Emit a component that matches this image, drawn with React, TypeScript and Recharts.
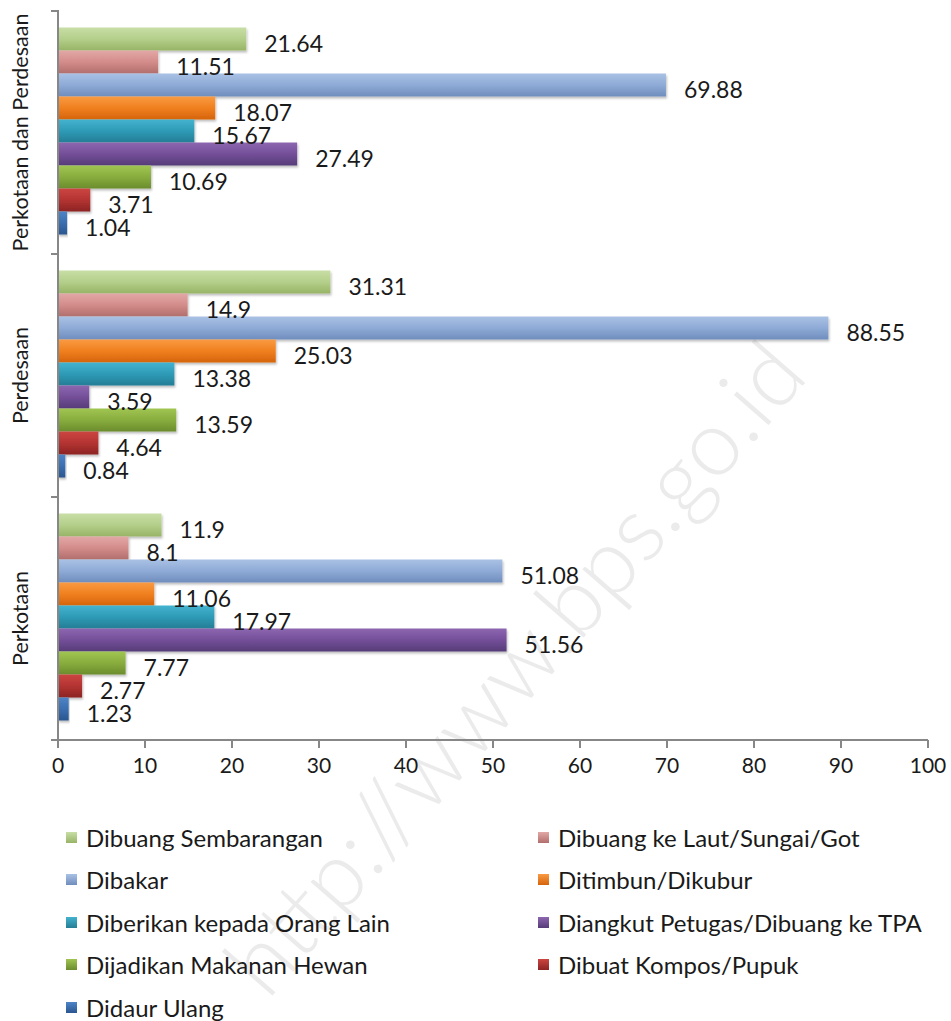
import React from "react";
import { BarChart, Bar, XAxis, YAxis, LabelList } from "recharts";

// Regions, top to bottom
const regions = ["Perkotaan dan Perdesaan", "Perdesaan", "Perkotaan"];

// Percentage of households by way of handling garbage
const dibuangSembarangan = [21.64, 31.31, 11.9];
const dibuangKeLaut = [11.51, 14.9, 8.1];
const dibakar = [69.88, 88.55, 51.08];
const ditimbun = [18.07, 25.03, 11.06];
const diberikan = [15.67, 13.38, 17.97];
const diangkut = [27.49, 3.59, 51.56];
const dijadikanMakanan = [10.69, 13.59, 7.77];
const dibuatKompos = [3.71, 4.64, 2.77];
const didaurUlang = [1.04, 0.84, 1.23];

const seriesNames = [
  "Dibuang Sembarangan",
  "Dibuang ke Laut/Sungai/Got",
  "Dibakar",
  "Ditimbun/Dikubur",
  "Diberikan kepada Orang Lain",
  "Diangkut Petugas/Dibuang ke TPA",
  "Dijadikan Makanan Hewan",
  "Dibuat Kompos/Pupuk",
  "Didaur Ulang",
];
const seriesValues = [
  dibuangSembarangan,
  dibuangKeLaut,
  dibakar,
  ditimbun,
  diberikan,
  diangkut,
  dijadikanMakanan,
  dibuatKompos,
  didaurUlang,
];

const xTicks = [0, 10, 20, 30, 40, 50, 60, 70, 80, 90, 100];

// [top, middle, bottom] shades for each series' bar gradient
const seriesShades = [
  ["#c8dea6", "#b3cf8a", "#98b466"],
  ["#e2a8a6", "#d38c8a", "#b16e6c"],
  ["#a9c1e4", "#8eaad6", "#6f8dbd"],
  ["#f99a42", "#f0801f", "#d5640c"],
  ["#43b3cf", "#2e9ab6", "#267d95"],
  ["#8d66b0", "#744f99", "#563c78"],
  ["#a0c552", "#88ad3e", "#6b8c2d"],
  ["#cc4542", "#b43432", "#8c2323"],
  ["#4d84c7", "#3a6eb0", "#2a5690"],
];

const keys = seriesNames.map((_, i) => `s${i}`);
const data = regions.map((region, r) => {
  const row: Record<string, string | number> = { region };
  seriesValues.forEach((vals, i) => {
    row[keys[i]] = vals[r];
  });
  return row;
});

const FONT = "Lato, 'Open Sans', sans-serif";
const AXIS = "#878787";
const LEFT_AXIS_W = 58;

const CategoryTick = (props: any) => {
  const { x, y, payload } = props;
  const half = payload && payload.offset ? payload.offset : 0;
  return (
    <g>
      <line x1={x + 1} x2={x + 9} y1={y - half} y2={y - half} stroke={AXIS} strokeWidth={2} />
      <line x1={x + 1} x2={x + 9} y1={y + half} y2={y + half} stroke={AXIS} strokeWidth={2} />
      <text
        x={20}
        y={y}
        transform={`rotate(-90, 20, ${y})`}
        textAnchor="middle"
        dominantBaseline="central"
        fontFamily={FONT}
        fontSize={21.5}
        fill="#1a1a1a"
      >
        {payload.value}
      </text>
    </g>
  );
};

const ValueLabel = (props: any) => {
  const { x, y, width, height, value } = props;
  return (
    <text
      x={x + width + 18}
      y={y + height / 2 + 4}
      dominantBaseline="central"
      fontFamily={FONT}
      fontSize={23}
      fill="#1a1a1a"
    >
      {value}
    </text>
  );
};

const Legend = () => (
  <div
    style={{
      position: "absolute",
      left: 0,
      top: 816,
      width: 951,
      display: "grid",
      gridTemplateColumns: "472px 479px",
      rowGap: 0,
      fontFamily: FONT,
      fontSize: 24,
      color: "#1a1a1a",
    }}
  >
    {seriesNames.map((name, i) => (
      <div
        key={name}
        style={{
          height: 42.5,
          display: "flex",
          alignItems: "center",
          paddingLeft: 66,
        }}
      >
        <span
          style={{
            width: 11,
            height: 11,
            marginRight: 9,
            flexShrink: 0,
            background: `linear-gradient(${seriesShades[i][0]}, ${seriesShades[i][2]})`,
          }}
        />
        <span style={{ whiteSpace: "nowrap" }}>{name}</span>
      </div>
    ))}
  </div>
);

export default function App() {
  return (
    <div style={{ position: "absolute", left: 0, top: 0, width: 951, height: 1021, background: "#fff", overflow: "hidden" }}>
      <svg width={951} height={1021} style={{ position: "absolute", left: 0, top: 0 }}>
        <text
          x={512}
          y={666}
          transform="rotate(-49, 512, 666)"
          textAnchor="middle"
          dominantBaseline="central"
          fontFamily={FONT}
          fontWeight={300}
          fontSize={92}
          fill="#ebebeb"
        >
          http://www.bps.go.id
        </text>
      </svg>
      <div style={{ position: "absolute", left: 0, top: 0 }}>
        <BarChart
          width={951}
          height={800}
          data={data}
          layout="vertical"
          margin={{ top: 11, right: 23, bottom: 0, left: 0 }}
          barCategoryGap="6.8%"
          barGap={0}
        >
          <defs>
            {seriesShades.map((s, i) => (
              <linearGradient key={i} id={`grad${i}`} x1="0" y1="0" x2="0" y2="1">
                <stop offset="0%" stopColor={s[0]} />
                <stop offset="50%" stopColor={s[1]} />
                <stop offset="100%" stopColor={s[2]} />
              </linearGradient>
            ))}
            <filter id="barShadow" x="-5%" y="-20%" width="115%" height="160%">
              <feDropShadow dx="1" dy="2" stdDeviation="1.2" floodColor="#000" floodOpacity="0.25" />
            </filter>
          </defs>
          <XAxis
            type="number"
            domain={[0, 100]}
            ticks={xTicks}
            interval={0}
            height={60}
            axisLine={{ stroke: AXIS, strokeWidth: 2 }}
            tickLine={{ stroke: AXIS, strokeWidth: 2 }}
            tickSize={8}
            tickMargin={10}
            tick={{ fontFamily: FONT, fontSize: 21, fill: "#1a1a1a" }}
          />
          <YAxis
            type="category"
            dataKey="region"
            width={LEFT_AXIS_W}
            axisLine={{ stroke: AXIS, strokeWidth: 2 }}
            tickLine={false}
            tick={<CategoryTick />}
            interval={0}
          />
          {keys.map((k, i) => (
            <Bar
              key={k}
              dataKey={k}
              name={seriesNames[i]}
              fill={`url(#grad${i})`}
              filter="url(#barShadow)"
              isAnimationActive={false}
            >
              <LabelList dataKey={k} content={<ValueLabel />} />
            </Bar>
          ))}
        </BarChart>
      </div>
      <Legend />
    </div>
  );
}
